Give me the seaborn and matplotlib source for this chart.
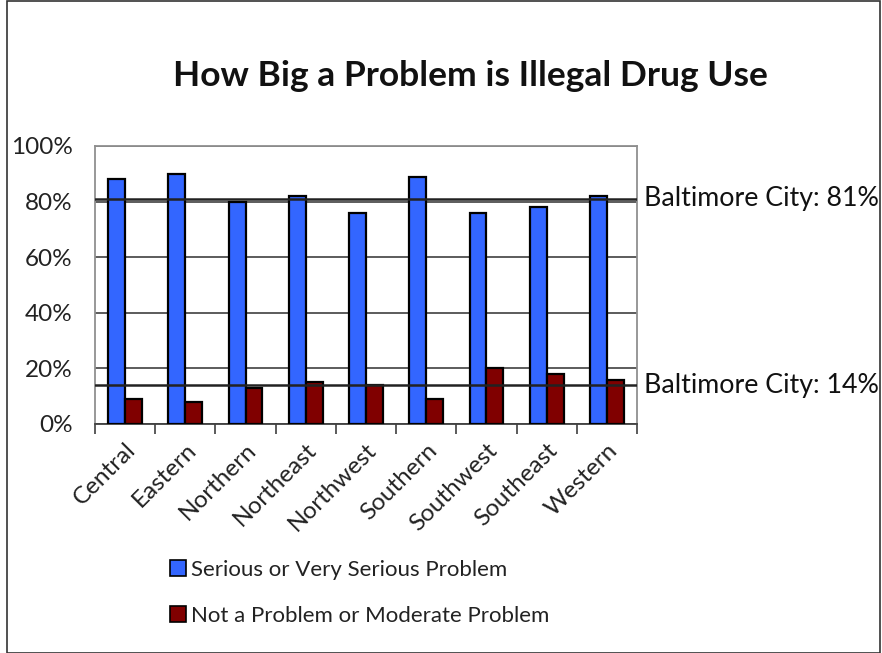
import matplotlib
matplotlib.use("Agg")
import matplotlib.pyplot as plt
from matplotlib.patches import Patch, Rectangle
from matplotlib.ticker import PercentFormatter
import seaborn as sns
import pandas as pd

districts = ["Central", "Eastern", "Northern", "Northeast", "Northwest",
             "Southern", "Southwest", "Southeast", "Western"]
serious = [88, 90, 80, 82, 76, 89, 76, 78, 82]
not_problem = [9, 8, 13, 15, 14, 9, 20, 18, 16]
series_names = ["Serious or Very Serious Problem", "Not a Problem or Moderate Problem"]
city_serious = 81
city_not_problem = 14
colors = ["#3366FF", "#800000"]

df = pd.DataFrame({
    "District": districts * 2,
    "Share": serious + not_problem,
    "Response": [series_names[0]] * len(districts) + [series_names[1]] * len(districts),
})

sns.set_theme(style="white")
plt.rcParams["font.family"] = ["Lato", "DejaVu Sans"]

fig = plt.figure(figsize=(8.82, 6.53), dpi=100)
ax = fig.add_axes([95 / 882, 1 - 424 / 653, 542 / 882, 278 / 653])

sns.barplot(data=df, x="District", y="Share", hue="Response", palette=colors,
            saturation=1, width=0.56, edgecolor="black", linewidth=1.6, ax=ax,
            legend=False, zorder=3)

ax.set_ylim(0, 100)
ax.set_xlim(-0.5, len(districts) - 0.5)
ax.set_yticks(range(0, 101, 20))
ax.yaxis.set_major_formatter(PercentFormatter(decimals=0))
ax.set_xlabel("")
ax.set_ylabel("")
ax.grid(axis="y", color="#404040", linewidth=1.2, zorder=0)
ax.grid(axis="x", visible=False)
for s in ax.spines.values():
    s.set_color("#909090")
    s.set_linewidth(1.3)
ax.spines["bottom"].set_color("#404040")

ax.tick_params(axis="y", length=0, labelsize=17.5, pad=16, colors="#222222")
ax.set_xticks([i - 0.5 for i in range(len(districts) + 1)], minor=True)
ax.tick_params(axis="x", which="minor", length=7, width=1.2, color="#404040",
               direction="out", bottom=True)
ax.tick_params(axis="x", which="major", length=0, labelsize=17.5, pad=11)
ax.set_xticks(range(len(districts)))
ax.set_xticklabels(districts, rotation=45, ha="right", rotation_mode="anchor")
for lbl in ax.get_xticklabels():
    lbl.set_color("#222222")

# Citywide reference lines with their labels
for val in (city_serious, city_not_problem):
    ax.axhline(val, color="#222222", linewidth=1.8, zorder=4)
    ax.text(1.013, val, f"Baltimore City: {val}%", transform=ax.get_yaxis_transform(),
            va="center", ha="left", fontsize=19.3, color="#111111", clip_on=False)

fig.text(0.533, 1 - 76 / 653, "How Big a Problem is Illegal Drug Use",
         ha="center", va="center", fontsize=25.5, fontweight="bold", color="#111111")

handles = [Patch(facecolor=c, edgecolor="black", linewidth=1.2) for c in colors]
fig.legend(handles, series_names, loc="upper left",
           bbox_to_anchor=(150 / 882, 1 - 540 / 653), frameon=False,
           fontsize=16, handlelength=0.7, handleheight=0.7, handletextpad=0.25,
           labelspacing=1.15, labelcolor="#222222")

# Chart frame
fig.patches.append(Rectangle((7 / 882, 0), 873 / 882, 0.999, transform=fig.transFigure,
                             fill=False, edgecolor="#333333", linewidth=1.2))

fig.savefig("out.png", dpi=100)
